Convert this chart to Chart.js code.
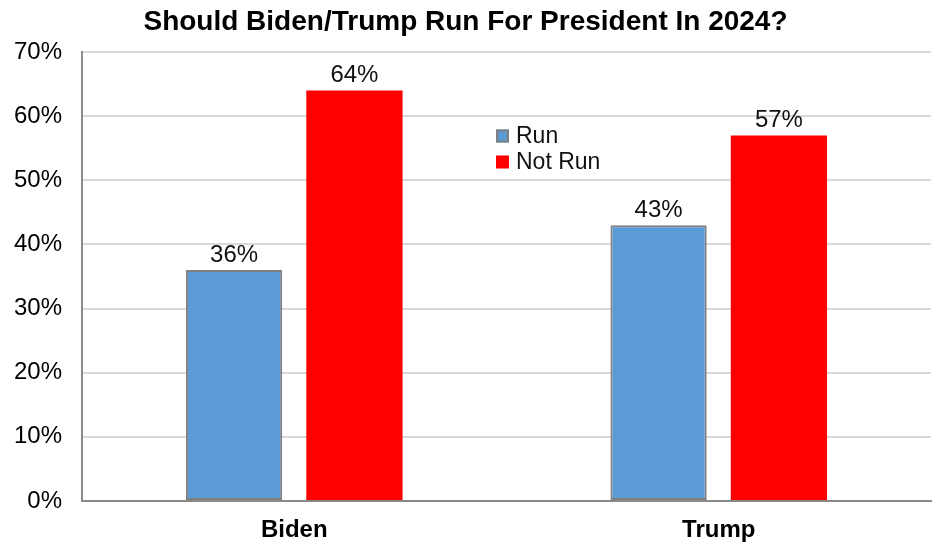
<!DOCTYPE html>
<html>
<head>
<meta charset="utf-8">
<title>Should Biden/Trump Run For President In 2024?</title>
<script src="https://cdn.jsdelivr.net/npm/chart.js@4/dist/chart.umd.min.js"></script>
<style>
  html, body { margin: 0; padding: 0; background: #fff; }
  #chart { display: block; }
</style>
</head>
<body>
<canvas id="chart" width="936" height="547"></canvas>
<script>
// Datos de la encuesta
const categories = ['Biden', 'Trump'];
const runValues = [36, 43];
const notRunValues = [64, 57];
const seriesNames = ['Run', 'Not Run'];
const yMax = 70;
const yStep = 10;

const FONT = "'Liberation Sans', Arial, sans-serif";

// Etiquetas de valor encima de cada barra
const valueLabels = {
    id: 'valueLabels',
    afterDatasetsDraw(chart) {
        const ctx = chart.ctx;
        ctx.save();
        ctx.font = '24px ' + FONT;
        ctx.fillStyle = '#111';
        ctx.textAlign = 'center';
        ctx.textBaseline = 'alphabetic';
        chart.data.datasets.forEach((ds, i) => {
            chart.getDatasetMeta(i).data.forEach((bar, j) => {
                ctx.fillText(ds.data[j] + '%', bar.x, bar.y - 8);
            });
        });
        ctx.restore();
    }
};

// Leyenda dentro del área del gráfico
const innerLegend = {
    id: 'innerLegend',
    afterDraw(chart) {
        const ctx = chart.ctx;
        const x = 496, y0 = 136, rowGap = 26, box = 13;
        ctx.save();
        ctx.font = '23px ' + FONT;
        ctx.textBaseline = 'middle';
        ctx.textAlign = 'left';
        chart.data.datasets.forEach((ds, i) => {
            const y = y0 + i * rowGap;
            ctx.fillStyle = ds.backgroundColor;
            ctx.fillRect(x, y - box / 2, box, box);
            if (ds.borderWidth) {
                ctx.strokeStyle = ds.borderColor;
                ctx.lineWidth = 2;
                ctx.strokeRect(x + 1, y - box / 2 + 1, box - 2, box - 2);
            }
            ctx.fillStyle = '#111';
            ctx.fillText(ds.label, x + 20, y + 1);
        });
        ctx.restore();
    }
};

new Chart(document.getElementById('chart').getContext('2d'), {
    type: 'bar',
    data: {
        labels: categories,
        datasets: [
            {
                label: seriesNames[0],
                data: runValues,
                backgroundColor: '#5B9BD5',
                borderColor: '#808080',
                borderWidth: 2,
                borderSkipped: false,
                categoryPercentage: 0.567,
                barPercentage: 0.8
            },
            {
                label: seriesNames[1],
                data: notRunValues,
                backgroundColor: '#FF0000',
                borderWidth: 0,
                categoryPercentage: 0.567,
                barPercentage: 0.8
            }
        ]
    },
    options: {
        responsive: false,
        animation: false,
        devicePixelRatio: 1,
        layout: { padding: { left: 0, right: 5, top: 0, bottom: 0 } },
        plugins: {
            legend: { display: false },
            tooltip: { enabled: false },
            title: {
                display: true,
                text: 'Should Biden/Trump Run For President In 2024?',
                color: '#000',
                font: { family: FONT, size: 28, weight: 'bold', lineHeight: 1.2 },
                padding: { top: 5, bottom: 13.4 }
            }
        },
        scales: {
            x: {
                grid: { display: false, drawTicks: false },
                border: { display: true, color: '#898989', width: 2 },
                ticks: {
                    color: '#000',
                    padding: 14.6,
                    font: { family: FONT, size: 24, weight: 'bold' }
                },
                afterFit(scale) { scale.height = 46; }
            },
            y: {
                min: 0,
                max: yMax,
                grid: { color: '#d9d9d9', lineWidth: 2, drawTicks: false },
                border: { display: true, color: '#8c8c8c', width: 2 },
                ticks: {
                    stepSize: yStep,
                    color: '#000',
                    padding: 20,
                    font: { family: FONT, size: 24 },
                    callback: v => v + '%'
                },
                afterFit(scale) { scale.width = 82; }
            }
        }
    },
    plugins: [valueLabels, innerLegend]
});
</script>
</body>
</html>
